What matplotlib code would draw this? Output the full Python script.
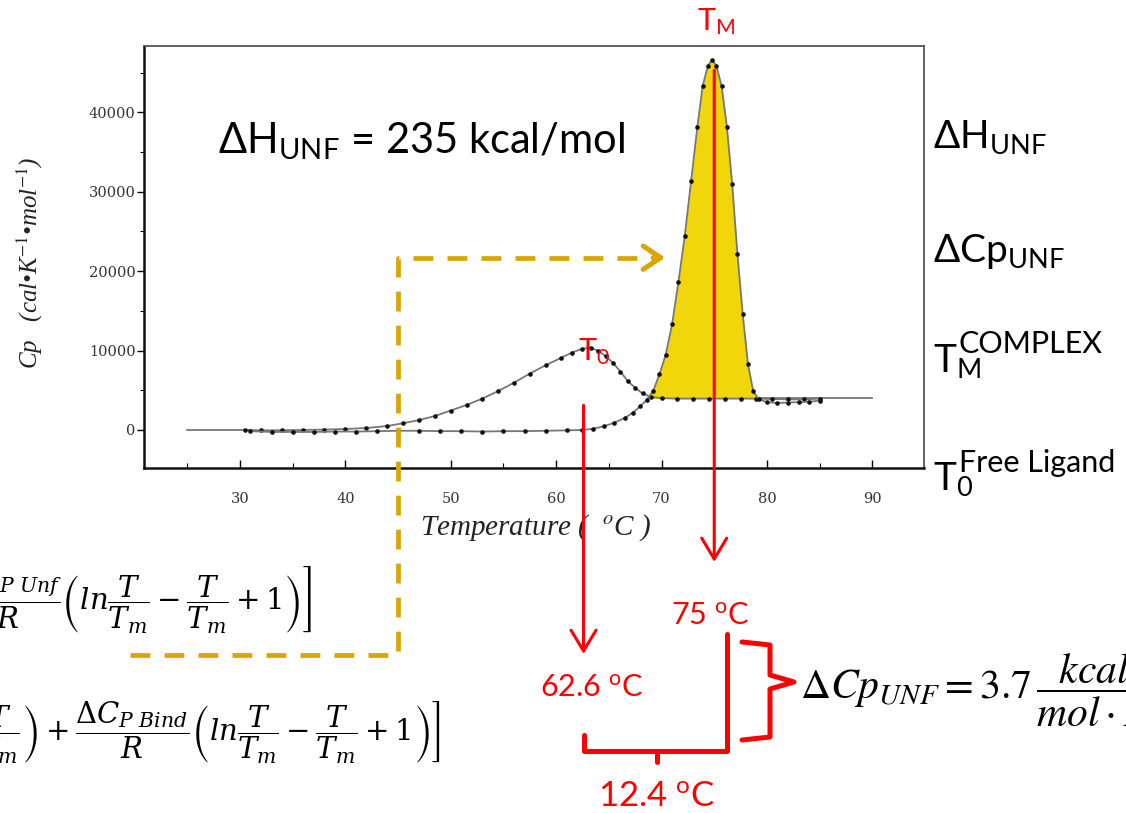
import matplotlib.pyplot as plt
from matplotlib.lines import Line2D
from matplotlib.ticker import MultipleLocator
from matplotlib.transforms import blended_transform_factory

plt.rcParams['font.family'] = ['Lato', 'DejaVu Sans']
plt.rcParams['mathtext.fontset'] = 'custom'
plt.rcParams['mathtext.rm'] = 'Lato'
plt.rcParams['mathtext.it'] = 'Lato:italic'
plt.rcParams['mathtext.bf'] = 'Lato:bold'
plt.rcParams['mathtext.fallback'] = 'stixsans'

# free ligand trace (small transition)
lig_T = [30.5, 32, 34, 36, 38, 40, 42, 44, 45.5, 47, 48.5, 50, 51.5, 53, 54.5,
         56, 57.5, 59, 60.5, 61.5, 62.5, 63.3, 64.0, 64.7, 65.4, 66.1, 66.8,
         67.5, 68.2, 69.0, 70, 71.5, 73, 74.5, 76, 77.5, 79, 80.5, 82, 83.5, 85]
lig_cp = [0, -50, -30, 0, 50, 120, 250, 500, 850, 1250, 1750, 2450, 3150, 3950,
          4900, 5950, 7100, 8150, 9100, 9750, 10250, 10350, 9950, 9300, 8450,
          7350, 6150, 5300, 4600, 4150, 4000, 3950, 3950, 3950, 3950, 3950,
          3950, 3900, 3850, 3850, 3950]

# complex trace (main unfolding peak)
cpx_T = [31, 33, 35, 37, 39, 41, 43, 45, 47, 49, 51, 53, 55, 57, 59, 61, 62.5,
         63.5, 64.5, 65.5, 66.5, 67.3, 68.0, 68.6, 69.2, 69.8, 70.4, 71.0,
         71.6, 72.2, 72.8, 73.4, 73.9, 74.4, 74.8, 75.2, 75.7, 76.2, 76.7,
         77.2, 77.7, 78.2, 78.7, 79.2, 80, 81, 82, 83, 84, 85]
cpx_cp = [-150, -250, -250, -250, -200, -200, -150, -100, -100, -150, -150,
          -200, -150, -150, -100, -50, 0, 150, 450, 900, 1500, 2200, 3000,
          3800, 4900, 7000, 9500, 13300, 18600, 24400, 31300, 38200, 43300,
          45900, 46600, 45900, 43300, 38200, 31000, 22200, 14600, 8300, 4900,
          3900, 3500, 3400, 3450, 3500, 3550, 3700]

# instrument baseline segments
base_left_T = [25, 31]
base_left_cp = [0, 0]
base_right_T = [79, 90]
base_right_cp = [4000, 4000]
unfolded_cp = 4000

x_ticks = [30, 40, 50, 60, 70, 80, 90]
y_ticks = [0, 10000, 20000, 30000, 40000]

t_m = 75.0
t_0 = 62.6
guide_T = 45
guide_cp = 21700

red = '#FF0000'
gold = '#DBA400'
W, H = 1126, 813

fig = plt.figure(figsize=(W / 100, H / 100), dpi=100)


def px(x, y):
    return x / W, 1 - y / H


ax = fig.add_axes([144 / W, 1 - 468 / H, 780 / W, 422 / H])
ax.set_xlim(20.9, 94.9)
ax.set_ylim(-4790, 48360)

ax.plot(base_left_T, base_left_cp, color='#777777', lw=1.3, zorder=2)
ax.plot(base_right_T, base_right_cp, color='#777777', lw=1.3, zorder=2)

# yellow area of the unfolding peak above the unfolded baseline
inpeak = [(c >= unfolded_cp) and (t > 66) for t, c in zip(cpx_T, cpx_cp)]
ax.fill_between(cpx_T, cpx_cp, unfolded_cp, where=inpeak, interpolate=True,
                color='#F0D60A', lw=0, zorder=1)

for T, cp in [(lig_T, lig_cp), (cpx_T, cpx_cp)]:
    ax.plot(T, cp, color='#777777', lw=1.3, marker='o', ms=2.3,
            mfc='#111111', mec='#111111', zorder=3)

ax.xaxis.set_minor_locator(MultipleLocator(5))
ax.yaxis.set_minor_locator(MultipleLocator(5000))
ax.set_xticks(x_ticks)
ax.set_yticks(y_ticks)
ax.tick_params(axis='x', which='major', direction='in', length=6, width=1,
               pad=17, labelsize=10.5, labelcolor='#333333')
ax.tick_params(axis='x', which='minor', direction='in', length=3.5, width=0.8)
ax.tick_params(axis='y', which='major', direction='out', length=5, width=1,
               pad=1, labelsize=10.5, labelcolor='#333333')
ax.tick_params(axis='y', which='minor', direction='out', length=3, width=0.8)
for lab in ax.get_xticklabels() + ax.get_yticklabels():
    lab.set_family('DejaVu Serif')

for side in ['left', 'bottom']:
    ax.spines[side].set_linewidth(1.8)
    ax.spines[side].set_color('#111111')
for side in ['top', 'right']:
    ax.spines[side].set_linewidth(1.3)
    ax.spines[side].set_color('#555555')

ax.set_xlabel('Temperature (  $^{o}$C )', family='Liberation Serif',
              style='italic', fontsize=21, color='#222222', va='center',
              math_fontfamily='stix')
ax.xaxis.set_label_coords(0.5026, -0.142)
ax.set_ylabel('Cp   (cal•K$^{-1}$•mol$^{-1}$)', family='Liberation Serif',
              style='italic', fontsize=18, color='#222222', va='center',
              math_fontfamily='stix')
ax.yaxis.set_label_coords(-0.146, 0.486)


def to_fig(T, cp):
    return fig.transFigure.inverted().transform(ax.transData.transform((T, cp)))


# dashed guide from the equation up to the peak
gx, gy = to_fig(guide_T, guide_cp)
ex, _ = to_fig(69.1, guide_cp)
x0, y0 = px(130, 655)
fig.add_artist(Line2D([x0, gx, gx, ex], [y0, y0, gy, gy], color=gold, lw=3.4,
                      ls=(0, (4.2, 3.0)), dash_capstyle='butt'))
ax.annotate('', xy=(70.35, guide_cp), xytext=(69.2, guide_cp),
            arrowprops=dict(arrowstyle='->,head_length=0.9,head_width=0.6',
                            color=gold, lw=3.6, mutation_scale=14,
                            shrinkA=0, shrinkB=0), annotation_clip=False)

# red drop lines from the two transition temperatures
mix = blended_transform_factory(ax.transData, fig.transFigure)
arrow = dict(arrowstyle='->,head_length=0.75,head_width=0.45', color=red,
             lw=2.2, mutation_scale=20, shrinkA=0, shrinkB=0)
ax.annotate('', xy=(t_m, px(0, 562)[1]), xycoords=mix,
            xytext=(t_m, 45300), textcoords='data', arrowprops=arrow,
            annotation_clip=False)
ax.annotate('', xy=(t_0, px(0, 654)[1]), xycoords=mix,
            xytext=(t_0, 3100), textcoords='data', arrowprops=arrow,
            annotation_clip=False)

# brackets
brk = dict(color=red, lw=3.6, solid_joinstyle='round', solid_capstyle='round')


def bracket(points):
    pts = [px(x, y) for x, y in points]
    fig.add_artist(Line2D([p[0] for p in pts], [p[1] for p in pts], **brk))


bracket([(584, 735), (584, 751), (727, 751), (727, 634)])
bracket([(657, 751), (657, 762)])
bracket([(742, 642), (770, 645), (770, 675), (794, 682), (770, 689),
         (770, 737), (742, 740)])

# texts
fig.text(*px(218, 153), r'$\Delta\mathrm{H}_{\mathrm{UNF}}$ = 235 kcal/mol',
         fontsize=30, va='baseline', ha='left')
fig.text(*px(697, 30), r'$\mathrm{T}_{\mathrm{M}}$', fontsize=22, color=red,
         va='baseline', ha='left')
fig.text(*px(578, 360), r'$\mathrm{T}_{\mathrm{0}}$', fontsize=22, color=red,
         va='baseline', ha='left')

fig.text(*px(933, 148), r'$\Delta\mathrm{H}_{\mathrm{UNF}}$', fontsize=28,
         va='baseline')
fig.text(*px(933, 262), r'$\Delta\mathrm{Cp}_{\mathrm{UNF}}$', fontsize=28,
         va='baseline')
fig.text(*px(933, 372), r'$\mathrm{T}_{\mathrm{M}}$', fontsize=28,
         va='baseline')
fig.text(*px(959, 353), 'COMPLEX', fontsize=22, va='baseline')
fig.text(*px(933, 490), r'$\mathrm{T}_{\mathrm{0}}$', fontsize=28,
         va='baseline')
fig.text(*px(959, 472), 'Free Ligand', fontsize=22, va='baseline')

fig.text(*px(710, 616), '75 $^{\\mathrm{o}}$C', fontsize=22, color=red,
         ha='center', va='center')
fig.text(*px(592, 688), '62.6 $^{\\mathrm{o}}$C', fontsize=22, color=red,
         ha='center', va='center')
fig.text(*px(657, 797), '12.4 $^{\\mathrm{o}}$C', fontsize=25, color=red,
         ha='center', va='center')

fig.text(*px(800, 690), r'$\Delta Cp_{UNF} = 3.7\,\dfrac{kcal}{mol\cdot K}$',
         fontsize=30, ha='left', va='center', math_fontfamily='stix')

fig.text(*px(312, 600),
         r'$\left.\dfrac{\Delta C_{P\ Unf}}{R}\left(ln\dfrac{T}{T_m}'
         r'-\dfrac{T}{T_m}+1\right)\right]$',
         fontsize=21, ha='right', va='center', math_fontfamily='dejavuserif')
fig.text(*px(441, 733),
         r'$\left.\left(1-\dfrac{T}{T_m}\right)+\dfrac{\Delta C_{P\ Bind}}{R}'
         r'\left(ln\dfrac{T}{T_m}-\dfrac{T}{T_m}+1\right)\right]$',
         fontsize=21, ha='right', va='center', math_fontfamily='dejavuserif')

fig.savefig('out.png', dpi=100)
